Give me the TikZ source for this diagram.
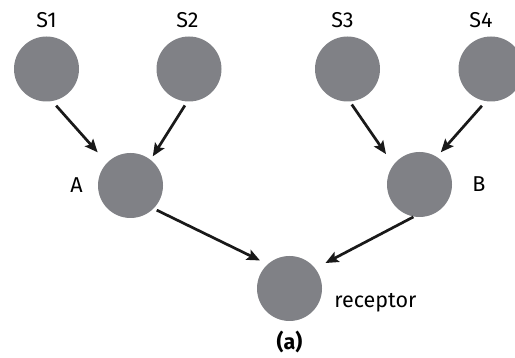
\documentclass[tikz,border=0pt]{standalone}
\usepackage{fontspec}
\setmainfont{Fira Sans}
\usetikzlibrary{arrows.meta, positioning}
\definecolor{nodegray}{RGB}{128,129,134}

\begin{document}
\begin{tikzpicture}[x=1pt, y=1pt, >={Stealth[length=13pt, width=11pt, inset=2.5pt]}, font=\fontsize{21.5}{25}\selectfont,
    unit/.style={circle, fill=nodegray, minimum size=65pt, inner sep=0pt},
    tag/.style={inner sep=1pt},
    link/.style={->, line width=2.7pt, black!90}]
    \useasboundingbox (0,0) rectangle (515,358);

    % Source units
    \node[unit] (s1) at (46.5,289) {};
    \node[unit] (s2) at (189,289) {};
    \node[unit] (s3) at (347.5,289) {};
    \node[unit] (s4) at (491,289) {};

    % Intermediate units and receptor
    \node[unit] (a) at (130.5,172.5) {};
    \node[unit] (b) at (419.5,173.5) {};
    \node[unit] (rec) at (289.5,69.5) {};

    % Labels
    \node[tag, above=7pt of s1] (s1lab) {S1};
    \node[tag, above=7pt of s2, xshift=-1.5pt] (s2lab) {S2};
    \node[tag, above=7pt of s3, xshift=-5pt] (s3lab) {S3};
    \node[tag, above=7pt of s4, xshift=-10pt] (s4lab) {S4};
    \node[tag, left=14pt of a] (alab) {A};
    \node[tag, right=19pt of b] (blab) {B};
    \node[tag, right=11pt of rec, yshift=-14pt] (reclab) {receptor};
    \node[tag, below=9pt of rec, font=\fontsize{21.5}{25}\selectfont\bfseries] (caption) {(a)};

    % Arrows
    \draw[link, shorten <=6pt, shorten >=14pt] (s1.280) -- (a.136);
    \draw[link, shorten <=4.5pt, shorten >=4pt] (s2.267) -- (a.52);
    \draw[link, shorten <=3.5pt, shorten >=13pt] (s3.274) -- (b.143);
    \draw[link, shorten <=6pt, shorten >=6pt] (s4.261) -- (b.58);
    \draw[link, shorten <=3.5pt, shorten >=8.5pt] (a.-45) -- (rec.132);
    \draw[link, shorten <=0.5pt, shorten >=11.5pt] (b.260) -- (rec.38.6);
\end{tikzpicture}
\end{document}
